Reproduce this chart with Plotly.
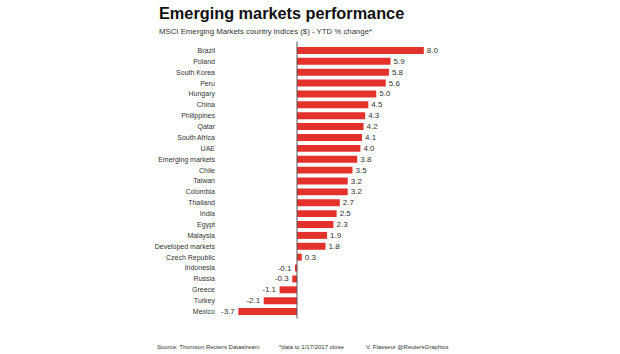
import plotly.graph_objects as go

countries = ["Brazil", "Poland", "South Korea", "Peru", "Hungary", "China", "Philippines",
             "Qatar", "South Africa", "UAE", "Emerging markets", "Chile", "Taiwan", "Colombia",
             "Thailand", "India", "Egypt", "Malaysia", "Developed markets", "Czech Republic",
             "Indonesia", "Russia", "Greece", "Turkey", "Mexico"]
ytd_change = [8.0, 5.9, 5.8, 5.6, 5.0, 4.5, 4.3, 4.2, 4.1, 4.0, 3.8, 3.5, 3.2, 3.2,
              2.7, 2.5, 2.3, 1.9, 1.8, 0.3, -0.1, -0.3, -1.1, -2.1, -3.7]

title_text = "Emerging markets performance"
subtitle_text = "MSCI Emerging Markets country indices ($) - YTD % change*"
footer_texts = ["Source: Thomson Reuters Datastream", "*data to 1/17/2017 close",
                "V. Flasseur @ReutersGraphics"]

W, H = 620, 354
L, R, T, B = 220, 160, 44.5, 36.5
PW, PH = W - L - R, H - T - B
zero_px, px_per_unit = 297, 15.85
xmin = -(zero_px - L) / px_per_unit
xmax = (W - R - zero_px) / px_per_unit


def xp(px):
    return (px - L) / PW


def yp(py):
    return (H - B - py) / PH


FONT = "Liberation Sans, Arial, sans-serif"

fig = go.Figure(go.Bar(
    x=ytd_change, y=countries, orientation="h",
    marker=dict(color="#e3312b", line=dict(width=0)),
    text=[f"{v:.1f}" for v in ytd_change], textposition="outside",
    textfont=dict(size=8, color="#333333", family=FONT),
    constraintext="none",
    cliponaxis=False,
))

fig.update_layout(
    width=W, height=H,
    margin=dict(l=L, r=R, t=T, b=B, pad=0),
    paper_bgcolor="white", plot_bgcolor="white",
    bargap=0.36, showlegend=False,
    font=dict(family=FONT, color="#333333"),
    xaxis=dict(range=[xmin, xmax], showgrid=False, showticklabels=False,
               zeroline=False, showline=False, ticks=""),
    yaxis=dict(autorange="reversed", showgrid=False, ticks="", showline=False,
               tickfont=dict(size=7, color="#333333"), ticklabelstandoff=4),
    shapes=[dict(type="line", xref="x", yref="paper", x0=0, x1=0,
                 y0=yp(319), y1=yp(41), line=dict(color="#555555", width=1))],
)

annotations = [
    dict(text=f"<b>{title_text}</b>", x=xp(157), y=yp(12), xanchor="left", yanchor="middle",
         font=dict(size=16.3, color="#111111", family=FONT)),
    dict(text=subtitle_text, x=xp(157), y=yp(31), xanchor="left", yanchor="middle",
         font=dict(size=7.8, color="#333333", family=FONT)),
]
for txt, xpos in zip(footer_texts, [155, 277, 364]):
    annotations.append(dict(text=txt, x=xp(xpos), y=yp(348), xanchor="left", yanchor="middle",
                            font=dict(size=6, color="#333333", family=FONT)))
for a in annotations:
    a.update(xref="paper", yref="paper", showarrow=False)
fig.update_layout(annotations=annotations)

fig.write_html("out.html")
